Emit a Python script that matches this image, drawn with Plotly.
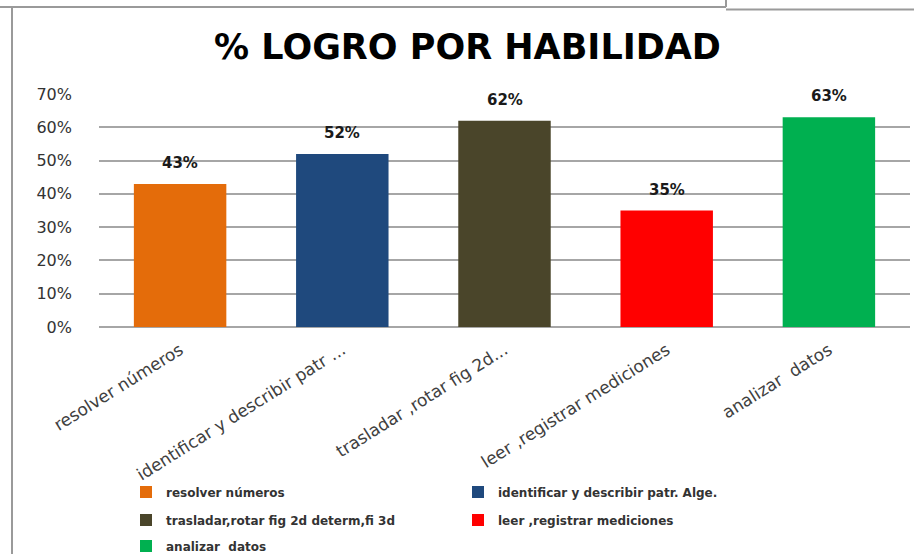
import plotly.graph_objects as go

# Skill categories, achievement values (%) and bar colours
categories = [
    "resolver números",
    "identificar y describir patr. Alge.",
    "trasladar,rotar fig 2d determ,fi 3d",
    "leer ,registrar mediciones",
    "analizar  datos",
]
axis_labels = [
    "resolver números",
    "identificar y describir patr ...",
    "trasladar ,rotar fig 2d...",
    "leer ,registrar mediciones",
    "analizar  datos",
]
logro = [43, 52, 62, 35, 63]
colors = ["#E46C0A", "#1F497D", "#4A452A", "#FF0000", "#00B050"]
y_ticks = [0, 10, 20, 30, 40, 50, 60, 70]

W, H = 914, 554
L, R, T, B = 99, 4, 94, 227

# Legend rows: two entries per row
legend_rows = ["legend", "legend", "legend2", "legend2", "legend3"]

fig = go.Figure()
for i, (cat, lab, v, c) in enumerate(zip(categories, axis_labels, logro, colors)):
    fig.add_trace(go.Bar(
        x=[lab], y=[v / 100], name=cat,
        marker=dict(color=c, line=dict(width=0)),
        legend=legend_rows[i],
        showlegend=True,
    ))

# Value labels above each bar
for lab, v in zip(axis_labels, logro):
    fig.add_annotation(
        x=lab, y=v / 100, text=f"{v}%", showarrow=False,
        yanchor="bottom", yshift=10,
        font=dict(family="DejaVu Sans", size=15, color="#1a1a1a", weight="bold"),
    )

plot_w = W - L - R
plot_h = H - T - B


def px_x(px):
    return (px - L) / plot_w


def px_y(py):
    return (H - B - py) / plot_h


# Frame lines around the chart
frame = "#9a9a9a"
shape_lines = [
    (0, 7, 726, 7), (726, 0, 726, 7), (726, 9.5, 914, 9.5), (12, 8, 12, 554),
]
for x0, y0, x1, y1 in shape_lines:
    fig.add_shape(type="line", xref="paper", yref="paper",
                  x0=px_x(x0), x1=px_x(x1), y0=px_y(y0), y1=px_y(y1),
                  line=dict(color=frame, width=2))

legend_common = dict(
    orientation="h", entrywidth=287, entrywidthmode="pixels",
    font=dict(family="DejaVu Sans", size=12, color="#333333", weight="bold"),
    bgcolor="rgba(0,0,0,0)", xanchor="left", yanchor="middle",
    itemclick=False, itemdoubleclick=False, traceorder="normal",
)

fig.update_layout(
    width=W, height=H,
    margin=dict(l=L, r=R, t=T, b=B, autoexpand=False),
    paper_bgcolor="white", plot_bgcolor="white",
    bargap=0.43,
    title=dict(
        text="% LOGRO POR HABILIDAD", x=467.5 / W, xanchor="center",
        y=1 - 47 / H, yanchor="middle", xref="container", yref="container",
        font=dict(family="DejaVu Sans", size=35, color="black", weight="bold"),
    ),
    xaxis=dict(
        tickangle=-32, showgrid=False, showline=False, ticks="",
        tickfont=dict(family="DejaVu Sans", size=17, color="#404040"),
        ticklabelstandoff=9, automargin=False,
    ),
    yaxis=dict(
        range=[0, 0.7001], tickvals=[t / 100 for t in y_ticks],
        ticktext=[f"{t}%" for t in y_ticks],
        showgrid=True, gridcolor="#a6a6a6", gridwidth=1.5,
        zeroline=True, zerolinecolor="#a6a6a6", zerolinewidth=1.5,
        showline=False, ticks="", ticklabelstandoff=26,
        tickfont=dict(family="DejaVu Sans", size=16, color="#333333"),
        automargin=False,
    ),
    legend=dict(x=px_x(126), y=px_y(492), **legend_common),
    legend2=dict(x=px_x(126), y=px_y(520), **legend_common),
    legend3=dict(x=px_x(126), y=px_y(546), **legend_common),
)

fig.write_html("out.html")
